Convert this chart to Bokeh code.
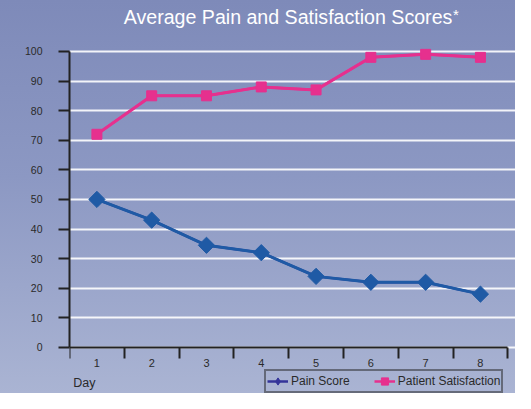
import numpy as np
from bokeh.plotting import figure
from bokeh.models import FixedTicker, Label, Legend, LegendItem, Range1d
from bokeh.embed import file_html
from bokeh.resources import INLINE

# ---- data ----
days = [1, 2, 3, 4, 5, 6, 7, 8]
day_labels = ["1", "2", "3", "4", "5", "6", "7", "8"]
pain_score = [50, 43, 34.5, 32, 24, 22, 22, 18]
patient_satisfaction = [72, 85, 85, 88, 87, 98, 99, 98]
y_ticks = [0, 10, 20, 30, 40, 50, 60, 70, 80, 90, 100]
title_text = "Average Pain and Satisfaction Scores"

PAIN = "#1f5aa5"
PAIN_LEG = "#34349a"
SAT = "#e6308e"
AX = "#222222"
TXT = "#2a2a2a"
FONT = "Liberation Sans"

# frame spans the full height; y range extends above/below 0..100 for title & legend
p = figure(width=515, height=393, output_backend="svg", toolbar_location=None,
           x_range=Range1d(0.5, 8.64), y_range=Range1d(-15.57, 117.2),
           min_border_left=69, min_border_right=0, min_border_top=0,
           min_border_bottom=0)
p.styles = {"background": "linear-gradient(180deg, #7e8ab9 0%, #8c98c3 45%, #aab4d3 100%)"}
p.background_fill_alpha = 0
p.border_fill_alpha = 0
p.outline_line_color = None

# grid
p.xgrid.grid_line_color = None
p.ygrid.ticker = FixedTicker(ticks=y_ticks)
p.ygrid.grid_line_color = "white"
p.ygrid.grid_line_width = 2
p.ygrid.grid_line_alpha = 0.9

# y axis
ya = p.yaxis[0]
ya.ticker = FixedTicker(ticks=y_ticks)
ya.bounds = (y_ticks[0], y_ticks[-1])
ya.axis_line_color = AX
ya.axis_line_width = 2
ya.major_tick_line_color = AX
ya.major_tick_line_width = 2
ya.major_tick_out = 11
ya.major_tick_in = 0
ya.minor_tick_line_color = None
ya.major_label_standoff = 16
ya.major_label_text_font = FONT
ya.major_label_text_font_size = "10.5px"
ya.major_label_text_color = TXT

# x axis, fixed at y = 0 inside the frame
xa = p.xaxis[0]
xa.fixed_location = 0
xa.bounds = (days[0] - 0.5, days[-1] + 0.5)
xa.ticker = FixedTicker(ticks=days, minor_ticks=[d - 0.5 for d in days] + [days[-1] + 0.5])
xa.major_label_overrides = {d: l for d, l in zip(days, day_labels)}
xa.axis_line_color = AX
xa.axis_line_width = 2
xa.major_tick_line_color = None
xa.major_tick_out = 0
xa.major_tick_in = 0
xa.minor_tick_line_color = AX
xa.minor_tick_line_width = 2
xa.minor_tick_out = 11
xa.minor_tick_in = 0
xa.major_label_standoff = 1
xa.major_label_text_font = FONT
xa.major_label_text_font_size = "11px"
xa.major_label_text_color = TXT

# legend-coloured proxies, drawn beneath the visible series
lp1 = p.line(days, pain_score, line_color=PAIN_LEG, line_width=2.5)
lp2 = p.scatter(days, pain_score, marker="diamond", size=9,
                fill_color=PAIN_LEG, line_color=PAIN_LEG)
ls1 = p.line(days, patient_satisfaction, line_color=SAT, line_width=2.5)
ls2 = p.scatter(days, patient_satisfaction, marker="square", size=7,
                fill_color=SAT, line_color=SAT)

# series
p.line(days, pain_score, line_color=PAIN, line_width=3)
p.scatter(days, pain_score, marker="square", angle=np.pi / 4, size=11.5,
          fill_color=PAIN, line_color=PAIN)
p.line(days, patient_satisfaction, line_color=SAT, line_width=3)
p.scatter(days, patient_satisfaction, marker="square", size=10,
          fill_color=SAT, line_color=SAT)

legend = Legend(items=[LegendItem(label="Pain Score", renderers=[lp1, lp2]),
                       LegendItem(label="Patient Satisfaction", renderers=[ls1, ls2])],
                orientation="horizontal", location=(195, 0),
                background_fill_alpha=0, border_line_color=AX, border_line_width=2,
                padding=1, spacing=24, margin=0, glyph_width=21, glyph_height=18,
                label_height=12, label_standoff=3,
                label_text_font=FONT, label_text_font_size="12px",
                label_text_color=TXT)
p.add_layout(legend, "center")

# title
p.add_layout(Label(x=1.49, y=111.7, text=title_text, text_align="left",
                   text_baseline="middle", text_color="white",
                   text_font=FONT, text_font_size="19.6px"))
p.add_layout(Label(x=7.5, y=112.6, text="*", text_align="left",
                   text_baseline="middle", text_color="white",
                   text_font=FONT, text_font_size="15px"))

# axis label "Day"
p.add_layout(Label(x=0.57, y=-12.0, text="Day", text_align="left",
                   text_baseline="middle", text_color=TXT,
                   text_font=FONT, text_font_size="12.5px"))

open("out.html", "w").write(file_html(p, INLINE))
